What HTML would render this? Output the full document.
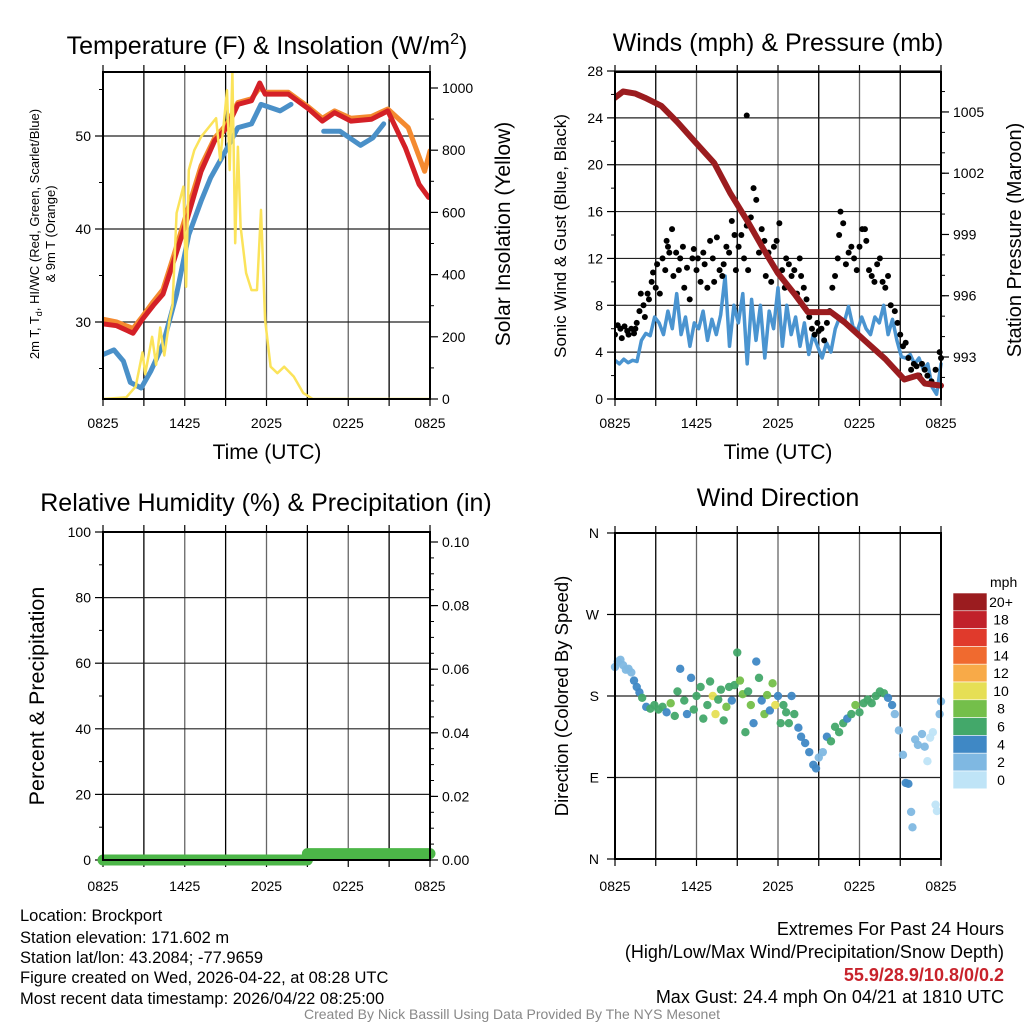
<!DOCTYPE html>
<html><head><meta charset="utf-8">
<style>
html,body{margin:0;padding:0;background:#fff;}
svg{display:block;font-family:"Liberation Sans",Arial,sans-serif;}
</style></head>
<body>
<svg id="chart" width="1024" height="1024" viewBox="0 0 1024 1024" xmlns="http://www.w3.org/2000/svg">
<rect width="1024" height="1024" fill="#fff"/>
<g id="layer"></g>
<!-- titles -->
<text x="267" y="54" font-size="25" text-anchor="middle">Temperature (F) &amp; Insolation (W/m<tspan font-size="16" dy="-10">2</tspan><tspan dy="10">)</tspan></text>
<text x="778" y="51" font-size="25" text-anchor="middle">Winds (mph) &amp; Pressure (mb)</text>
<text x="266" y="511" font-size="25" text-anchor="middle">Relative Humidity (%) &amp; Precipitation (in)</text>
<text x="778" y="506" font-size="25" text-anchor="middle">Wind Direction</text>
<!-- axis titles -->
<text x="267" y="459" font-size="21" text-anchor="middle">Time (UTC)</text>
<text x="778" y="459" font-size="21" text-anchor="middle">Time (UTC)</text>
<text transform="translate(39,234) rotate(-90)" font-size="13" text-anchor="middle">2m T, T<tspan font-size="9" dy="3">d</tspan><tspan dy="-3">, HI/WC (Red, Green, Scarlet/Blue)</tspan></text>
<text transform="translate(55,234) rotate(-90)" font-size="13" text-anchor="middle">&amp; 9m T (Orange)</text>
<text transform="translate(510,234) rotate(-90)" font-size="21" text-anchor="middle">Solar Insolation (Yellow)</text>
<text transform="translate(566,236) rotate(-90)" font-size="17" text-anchor="middle">Sonic Wind &amp; Gust (Blue, Black)</text>
<text transform="translate(1021,240) rotate(-90)" font-size="20" text-anchor="middle">Station Pressure (Maroon)</text>
<text transform="translate(44,696) rotate(-90)" font-size="21.5" text-anchor="middle">Percent &amp; Precipitation</text>
<text transform="translate(568,696) rotate(-90)" font-size="18.5" text-anchor="middle">Direction (Colored By Speed)</text>
<!-- footer -->
<g font-size="16.5">
<text x="20" y="921">Location: Brockport</text>
<text x="20" y="943">Station elevation: 171.602 m</text>
<text x="20" y="963">Station lat/lon: 43.2084; -77.9659</text>
<text x="20" y="983">Figure created on Wed, 2026-04-22, at 08:28 UTC</text>
<text x="20" y="1004">Most recent data timestamp: 2026/04/22 08:25:00</text>
</g>
<g font-size="18" text-anchor="end">
<text x="1004" y="935">Extremes For Past 24 Hours</text>
<text x="1004" y="958">(High/Low/Max Wind/Precipitation/Snow Depth)</text>
<text x="1004" y="981" fill="#c8232c" font-weight="bold">55.9/28.9/10.8/0/0.2</text>
<text x="1004" y="1003">Max Gust: 24.4 mph On 04/21 at 1810 UTC</text>
</g>
<text x="512" y="1019" font-size="14" fill="#888" text-anchor="middle">Created By Nick Bassill Using Data Provided By The NYS Mesonet</text>
<text x="990" y="587" font-size="14">mph</text>
</svg>
<script>
// ---------- data ----------
const xTickLabels = ["0825","1425","2025","0225","0825"];
const tempHours = [0,1.0,2.2,2.9,3.7,4.4,5.2,6.2,7.2,8.2,9.1,9.9,10.9,11.5,11.9,13.6,15.1,16.1,17.0,18.2,19.7,20.9,22.2,23.2,23.9];
const tempVals  = [29.8,29.6,28.8,30.3,31.8,33.0,36.6,41.2,46.2,49.5,50.9,53.4,53.8,55.7,54.5,54.5,52.9,51.6,52.5,51.6,51.8,52.7,48.7,44.8,43.4];
const temp9Hours = [0,1.0,2.2,2.9,3.7,4.4,5.2,6.2,7.2,8.2,9.1,9.9,10.9,11.5,11.9,13.6,15.1,16.1,17.0,18.2,19.7,20.9,22.4,23.6,24.0];
const temp9Vals  = [30.3,30.0,29.3,30.6,32.2,33.5,37.2,42.0,46.8,49.8,51.3,53.6,54.0,55.2,54.7,54.7,53.1,51.9,52.7,51.9,52.1,52.9,50.9,46.2,48.4];
const dewHours = [0,0.8,1.5,2.0,2.8,3.5,4.4,5.4,6.3,7.2,7.9,9.0,9.9,10.9,11.6,13.0,13.8];
const dewVals  = [26.5,27.0,25.8,23.5,22.9,24.7,27.6,33.0,39.4,43.0,45.5,48.4,50.9,51.3,53.4,52.7,53.4];
const dew2Hours = [16.2,17.4,18.9,19.8,20.6];
const dew2Vals  = [50.5,50.5,49.0,49.8,51.3];
const solHours = [0,1.7,2.4,2.9,3.1,3.6,3.9,4.2,4.5,4.9,5.1,5.4,5.9,6.1,6.3,6.7,7.2,8.3,8.6,9.1,9.3,9.5,9.7,9.9,10.1,10.5,10.9,11.3,11.6,11.9,12.3,12.8,13.3,14.0,14.7,15.4,24];
const solVals  = [0,5,40,150,80,200,110,230,140,260,300,598,683,361,736,800,843,903,768,993,736,1052,501,811,554,405,350,350,608,254,104,83,104,72,19,0,0];
const windVals = [3.3,3.0,3.4,3.1,3.3,3.2,5.0,5.6,5.4,7.0,6.5,5.5,7.5,6.0,9.0,5.5,7.0,4.5,6.5,6.0,7.5,5.0,6.8,5.5,7.2,10.5,4.5,8.0,6.5,9.0,3.0,8.5,5.0,8.0,3.5,7.5,6.0,9.5,4.5,8.0,5.5,7.0,4.5,6.5,3.8,5.5,4.5,3.5,4.8,4.0,6.0,7.0,6.5,7.9,6.2,5.8,7.0,6.0,5.5,7.0,6.5,8.0,5.5,6.8,5.0,3.6,3.5,3.8,3.0,3.5,2.5,3.0,1.0,0.4,3.0];
const gustHours = [0,0.2,0.4,0.5,0.7,0.9,1.0,1.2,1.4,1.5,1.6,1.8,1.9,2.1,2.2,2.4,2.5,2.7,2.8,3.0,3.1,3.3,3.5,3.7,3.8,3.9,4.0,4.2,4.3,4.5,4.7,4.8,5.0,5.1,5.3,5.5,5.7,5.8,6.0,6.1,6.3,6.5,6.6,6.8,7.0,7.2,7.3,7.5,7.7,7.9,8.0,8.2,8.4,8.6,8.8,8.9,9.1,9.3,9.5,9.7,9.7,9.8,10.0,10.2,10.4,10.6,10.8,11.0,11.1,11.3,11.5,11.7,11.9,12.1,12.3,12.5,12.6,12.8,13.0,13.2,13.4,13.6,13.7,13.9,14.1,14.3,14.5,14.7,14.9,15.0,15.2,15.4,15.6,15.8,16.0,16.2,16.4,16.5,16.6,16.8,17.0,17.2,17.4,17.6,17.8,18.0,18.2,18.4,18.5,18.7,18.9,19.1,19.3,19.5,19.7,19.9,20.1,20.3,20.6,20.8,21.0,21.2,21.4,21.6,21.8,22.0,22.2,22.4,22.6,22.8,23.0,23.3,23.6,23.9,24.0];
const gustVals  = [5.5,6.3,6.0,5.2,6.2,5.8,5.5,6.0,5.6,6.0,6.5,7.5,9.0,8.0,7.0,9.0,8.5,10.0,10.8,9.5,11.5,9.0,12.0,11.0,13.5,13.0,12.5,14.5,10.5,12.5,11.0,12.0,13.0,9.5,11.2,8.5,12.0,12.8,11.0,12.0,10.0,12.5,11.5,9.5,13.5,12.0,10.0,13.8,11.0,10.5,11.5,13.0,12.5,15.2,14.0,11.0,13.0,14.0,12.0,14.8,24.2,11.0,15.5,18.0,17.0,12.5,14.5,13.5,10.5,12.5,10.0,13.0,13.5,15.0,11.0,9.5,12.0,11.5,10.5,11.0,9.0,12.0,10.5,9.5,8.5,7.0,6.0,5.5,6.5,5.8,6.0,5.0,6.5,7.5,9.5,10.5,12.0,14.0,16.0,15.0,11.5,12.5,13.0,12.0,11.0,13.0,14.5,14.5,13.5,11.0,10.5,10.0,11.5,12.0,10.0,9.5,10.5,8.0,7.5,6.5,5.5,4.5,4.8,3.5,2.5,3.0,2.8,2.0,3.0,2.5,2.0,1.5,2.5,4.0,3.5];
const presHours = [0,0.6,1.5,2.2,3.4,4.6,5.8,7.3,8.5,9.8,11.0,12.0,13.2,14.2,15.2,15.9,16.9,18.4,19.9,21.3,22.3,22.8,24.0];
const presVals  = [1005.7,1006.0,1005.9,1005.7,1005.3,1004.5,1003.6,1002.5,1001.0,999.6,998.2,997.1,996.1,995.2,995.2,995.2,994.7,993.8,992.9,991.9,992.1,991.7,991.6];
const precipHours = [0,15,15,24];
const precipVals  = [0,0,0.002,0.002];
const dirHours = [0.0,0.2,0.4,0.6,0.8,1.0,1.2,1.4,1.6,1.8,2.0,2.3,2.6,2.9,3.2,3.5,3.8,4.1,4.4,4.6,4.8,5.1,5.3,5.6,5.8,6.0,6.3,6.5,6.8,7.0,7.2,7.4,7.6,7.8,8.0,8.2,8.4,8.6,8.8,9.0,9.2,9.4,9.6,9.8,10.0,10.2,10.4,10.6,10.8,11.0,11.2,11.4,11.6,11.8,12.0,12.2,12.4,12.6,12.8,13.0,13.2,13.5,13.7,14.0,14.3,14.6,14.8,15.0,15.3,15.6,15.9,16.2,16.5,16.8,17.1,17.4,17.7,18.0,18.3,18.6,18.9,19.2,19.5,19.8,20.1,20.4,20.6,20.9,21.2,21.4,21.6,21.8,21.9,22.1,22.3,22.6,22.8,23.0,23.2,23.4,23.6,23.7,23.9,24.0];
const dirDeg = [212,218,220,214,209,210,206,197,190,184,178,168,166,170,165,168,162,172,158,185,210,175,160,200,165,180,190,155,170,196,180,160,176,187,153,168,190,175,192,228,197,182,140,185,170,150,218,200,175,160,181,164,194,170,180,150,170,162,150,180,160,145,135,128,118,104,100,112,118,135,130,146,140,150,155,160,170,162,172,176,172,180,185,183,178,170,160,142,115,84,83,52,35,132,126,138,124,108,134,140,60,53,160,174];
const dirSpeed = [2,2,2,2,2,2,2,4,4,4,6,4,6,6,6,6,4,8,6,6,4,6,4,4,6,6,6,6,6,6,10,10,6,6,6,8,6,4,6,6,8,8,6,6,8,4,4,6,4,8,8,4,8,10,4,6,6,6,6,4,6,4,4,4,4,4,4,2,2,4,6,6,6,6,4,6,8,6,6,6,6,6,6,6,4,4,2,2,2,4,4,2,2,2,2,2,2,0,0,0,0,0,2,2];
const cbLabels = ["20+","18","16","14","12","10","8","6","4","2","0"];
const cbColors = ["#9b1c1f","#c1212a","#e03a2c","#f06a2f","#f8aa48","#e6df55","#74bf4a","#43a86a","#3f88c5","#7fb8e2","#bfe4f7"];

// ---------- drawing ----------
const NS="http://www.w3.org/2000/svg";
const layer=document.getElementById('layer');
function mk(tag,attrs,parent){const e=document.createElementNS(NS,tag);for(const k in attrs)e.setAttribute(k,attrs[k]);(parent||layer).appendChild(e);return e;}
function txt(x,y,s,size,anchor,parent){const t=mk('text',{x:x,y:y,'font-size':size,'text-anchor':anchor},parent);t.textContent=s;return t;}

function panel(name,x0,x1,y0,y1,labelY){
  const g=mk('g',{});
  
  
  const xs=h=>x0+(x1-x0)*h/24;
  for(let i=1;i<8;i++){const x=xs(i*3);mk('line',{x1:x,y1:y0,x2:x,y2:y1,stroke:i%2?'#000':'#666','stroke-width':1.3},g);}
  for(let i=0;i<=8;i++){const x=xs(i*3);mk('line',{x1:x,y1:y1,x2:x,y2:y1+7,stroke:'#000','stroke-width':1.2},g);mk('line',{x1:x,y1:y0,x2:x,y2:y0-7,stroke:'#000','stroke-width':1.2},g);}
  xTickLabels.forEach((s,i)=>{const t=txt(xs(i*6),labelY,s,14,'middle',g);
    
    });
  return {g,xs};
}
function frame(g,x0,x1,y0,y1){mk('rect',{x:x0,y:y0,width:x1-x0,height:y1-y0,fill:'none',stroke:'#000','stroke-width':2},g);}
function yAxis(g,x,vals,ys,side,fmt,grid,x0,x1,minors){
  if(minors)minors.forEach(v=>{const y=ys(v);mk('line',{x1:x,y1:y,x2:x+(side<0?-4:4),y2:y,stroke:'#000','stroke-width':1},g);});
  vals.forEach(v=>{const y=ys(v);
    if(grid)mk('line',{x1:x0,y1:y,x2:x1,y2:y,stroke:'#222','stroke-width':1.2},g);
    mk('line',{x1:x,y1:y,x2:x+side*8,y2:y,stroke:'#000','stroke-width':1.2},g);
    const t=txt(x+side*12,y+5,fmt(v),14,side<0?'end':'start',g);
    
    });
}
function line(g,hs,vs,xs,ys,color,w,name){
  const d=hs.map((h,i)=>(i?'L':'M')+xs(h).toFixed(1)+','+ys(vs[i]).toFixed(1)).join('');
  const p=mk('path',{d:d,fill:'none',stroke:color,'stroke-width':w,'stroke-linejoin':'round','stroke-linecap':'round'},g);
  
  
  return p;
}
const rng=(a,b,s)=>{const r=[];for(let v=a;v<=b+1e-9;v+=s)r.push(+v.toFixed(4));return r;};

// Panel 1
(function(){
  const x0=103,x1=430,y0=72,y1=399;
  const {g,xs}=panel('temperature-panel',x0,x1,y0,y1,428);
  const yT=t=>322-(t-30)*9.3, yI=v=>399-v*0.311;
  yAxis(g,x0,[30,40,50],yT,-1,v=>v,true,x0,x1,[25,35,45,55]);
  yAxis(g,x1,rng(0,1000,200),yI,1,v=>v,false,0,0,rng(100,1000,200));
  const clip=mk('clipPath',{id:'c1'},g);mk('rect',{x:x0,y:y0,width:x1-x0,height:y1-y0},clip);
  const cg=mk('g',{'clip-path':'url(#c1)'},g);
  line(cg,dewHours,dewVals,xs,yT,'#4a90c8',5,'dewpoint-line');
  line(cg,dew2Hours,dew2Vals,xs,yT,'#4a90c8',5,'dewpoint-line-late');
  line(cg,temp9Hours,temp9Vals,xs,yT,'#f48a30',5,'temp-9m-line');
  line(cg,tempHours,tempVals,xs,yT,'#d42027',5,'temp-2m-line');
  line(cg,solHours,solVals,xs,yI,'#fbe35a',2.5,'insolation-line');
  frame(g,x0,x1,y0,y1);
})();

// Panel 2
(function(){
  const x0=615,x1=941,y0=72,y1=399;
  const {g,xs}=panel('winds-panel',x0,x1,y0,y1,428);
  const yW=v=>399-v*11.714, yP=p=>357-(p-993)*20.42;
  yAxis(g,x0,rng(0,28,4),yW,-1,v=>v,true,x0,x1,rng(2,26,4));
  yAxis(g,x1,[993,996,999,1002,1005],yP,1,v=>v,false,0,0,rng(992,1006,1));
  const clip=mk('clipPath',{id:'c2'},g);mk('rect',{x:x0,y:y0-4,width:x1-x0+4,height:y1-y0+8},clip);
  const cg=mk('g',{'clip-path':'url(#c2)'},g);
  const wh=windVals.map((v,i)=>i*24/(windVals.length-1));
  line(cg,wh,windVals,xs,yW,'#4a94d0',3.5,'sonic-wind-line');
  gustHours.forEach((h,i)=>{const c=mk('circle',{cx:xs(h),cy:yW(gustVals[i]),r:3,fill:'#000'},cg);
    
    });
  line(cg,presHours,presVals,xs,yP,'#9b1c1f',6,'pressure-line');
  frame(g,x0,x1,y0,y1);
})();

// Panel 3
(function(){
  const x0=103,x1=430,y0=532,y1=860;
  const {g,xs}=panel('humidity-panel',x0,x1,y0,y1,891);
  const yR=v=>860-v*3.28, yPr=p=>860-p*3180;
  yAxis(g,x0,rng(0,100,20),yR,-1,v=>v,true,x0,x1,rng(10,90,20));
  yAxis(g,x1,rng(0,0.1,0.02),yPr,1,v=>v.toFixed(2),false,0,0,rng(0.005,0.1,0.005));
  line(g,precipHours,precipVals,xs,yPr,'#4cb648',11,'precipitation-line');
  frame(g,x0,x1,y0,y1);
})();

// Panel 4
(function(){
  const x0=615,x1=941,y0=533,y1=859;
  const {g,xs}=panel('wind-direction-panel',x0,x1,y0,y1,891);
  const yD=d=>859-d*0.9056;
  const names=['N','E','S','W','N'];
  [0,90,180,270,360].forEach((d,i)=>{const y=yD(d);
    if(i>0&&i<4)mk('line',{x1:x0,y1:y,x2:x1,y2:y,stroke:'#222','stroke-width':1.2},g);
    mk('line',{x1:x0,y1:y,x2:x0-8,y2:y,stroke:'#000','stroke-width':1.2},g);
    const t=txt(x0-16,y+5,names[i],14,'end',g);
    
    });
  dirHours.forEach((h,i)=>{const idx=10-Math.min(10,Math.round(dirSpeed[i]/2));
    const c=mk('circle',{cx:xs(h),cy:yD(dirDeg[i]),r:4.2,fill:cbColors[idx],'fill-opacity':0.95},g);
    
    });
  frame(g,x0,x1,y0,y1);
  // colorbar
  const cb=mk('g',{});
  
  
  const bh=17.8, by=593;
  cbColors.forEach((c,i)=>{mk('rect',{x:953,y:by+i*bh,width:34,height:bh,fill:c,stroke:'#fff','stroke-width':0.6},cb);
    const t=txt(1001,by+i*bh+bh/2+5,cbLabels[i],14,'middle',cb);
    
    });
})();
</script>
</body></html>
